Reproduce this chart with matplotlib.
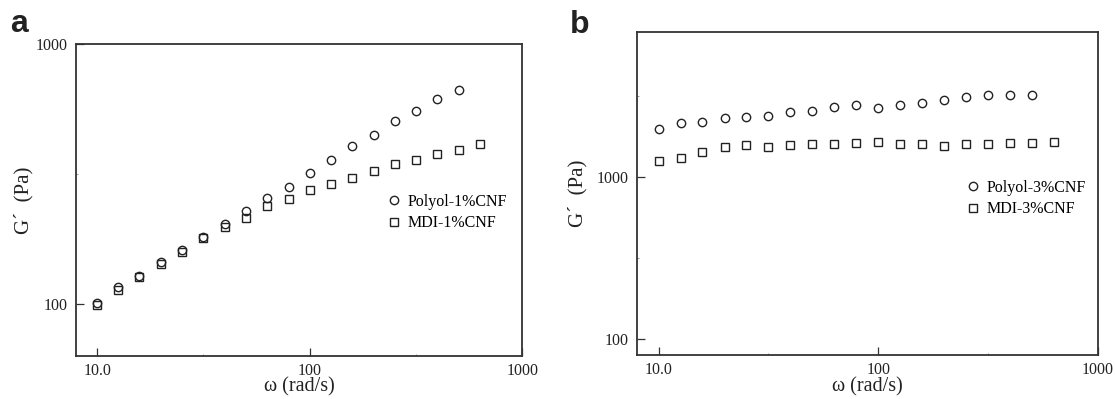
import numpy as np
import matplotlib
matplotlib.use("Agg")
import matplotlib.pyplot as plt
from matplotlib.ticker import FixedLocator, NullFormatter

plt.rcParams['font.family'] = ['Liberation Serif', 'DejaVu Serif']

#  Angular frequency, rad/s (5 points per decade)
omega_polyol = [10.0, 12.6, 15.8, 20.0, 25.1, 31.6, 39.8, 50.1, 63.1, 79.4,
                100, 126, 158, 200, 251, 316, 398, 501]
omega_mdi = omega_polyol + [631]

#  Panel a: storage modulus G' (Pa), 1% CNF
g_polyol_1 = [101, 116, 128, 145, 162, 182, 204, 228, 256, 283,
              321, 359, 406, 447, 507, 553, 614, 665]
g_mdi_1 = [99.6, 113, 127, 143, 159, 179, 199, 214, 238, 255,
           275, 291, 307, 325, 345, 358, 379, 393, 413]

#  Panel b: storage modulus G' (Pa), 3% CNF
g_polyol_3 = [1982, 2158, 2198, 2327, 2370, 2404, 2523, 2582, 2734, 2788,
              2694, 2788, 2880, 2993, 3124, 3228, 3215, 3215]
g_mdi_3 = [1261, 1316, 1428, 1533, 1577, 1546, 1591, 1607, 1600, 1623,
           1646, 1600, 1600, 1567, 1607, 1607, 1637, 1630, 1646]

x_ticks = [10, 100, 1000]
x_tick_labels = ["10.0", "100", "1000"]
y_ticks = [100, 1000]
y_tick_labels = ["100", "1000"]

fig = plt.figure(figsize=(11.15, 3.99), dpi=100)
ax_a = fig.add_axes([0.0679, 0.1078, 0.4007, 0.7812])
ax_b = fig.add_axes([0.5714, 0.1103, 0.4133, 0.8088])

ink = "#222222"
spine_col = "#333333"


def style(ax, xlim, ylim, minor_y, ylab_x, xlab_y):
    ax.set_xscale("log")
    ax.set_yscale("log")
    ax.set_xlim(*xlim)
    ax.set_ylim(*ylim)
    ax.xaxis.set_major_locator(FixedLocator(x_ticks))
    ax.set_xticklabels(x_tick_labels)
    ax.yaxis.set_major_locator(FixedLocator(y_ticks))
    ax.set_yticklabels(y_tick_labels)
    ax.xaxis.set_minor_locator(FixedLocator([31.6, 316]))
    ax.yaxis.set_minor_locator(FixedLocator(minor_y))
    ax.xaxis.set_minor_formatter(NullFormatter())
    ax.yaxis.set_minor_formatter(NullFormatter())
    ax.tick_params(which="major", direction="in", length=6, width=0.9,
                   color=spine_col, labelsize=11.5, labelcolor=ink)
    ax.tick_params(axis="x", which="major", pad=5)
    ax.tick_params(axis="y", which="major", pad=6)
    ax.tick_params(which="minor", direction="in", length=1.5, width=0.6,
                   color="#888888")
    for s in ax.spines.values():
        s.set_linewidth(1.3)
        s.set_color(spine_col)
    ax.set_xlabel("ω (rad/s)", fontsize=14.5, color=ink, va="center")
    ax.xaxis.set_label_coords(0.5, xlab_y)
    ax.set_ylabel("G´  (Pa)", fontsize=15, color=ink, va="center")
    ax.yaxis.set_label_coords(ylab_x, 0.5)


mk = dict(linestyle="none", markerfacecolor="none", markeredgecolor=ink,
          markeredgewidth=1.0)

#  Panel a
ax_a.plot(omega_polyol, g_polyol_1, marker="o", markersize=6, label="Polyol-1%CNF", **mk)
ax_a.plot(omega_mdi, g_mdi_1, marker="s", markersize=5.4, label="MDI-1%CNF", **mk)
style(ax_a, (7.93, 1000), (63.2, 1000), [316], -0.117, -0.0995)
ax_a.legend(loc="center left", bbox_to_anchor=(0.699, 0.46), frameon=False,
            fontsize=11.5, handlelength=0.8, handletextpad=0.45,
            labelspacing=0.35, borderpad=0, borderaxespad=0, numpoints=1)

#  Panel b
ax_b.plot(omega_polyol, g_polyol_3, marker="o", markersize=6, label="Polyol-3%CNF", **mk)
ax_b.plot(omega_mdi, g_mdi_3, marker="s", markersize=5.4, label="MDI-3%CNF", **mk)
style(ax_b, (7.98, 1000), (79.6, 7890), [316, 3162], -0.128, -0.0992)
ax_b.legend(loc="center left", bbox_to_anchor=(0.716, 0.485), frameon=False,
            fontsize=11.5, handlelength=0.8, handletextpad=0.45,
            labelspacing=0.35, borderpad=0, borderaxespad=0, numpoints=1)

#  Panel letters
fig.text(0.009, 0.92, "a", fontsize=23, fontweight="bold",
         family=["Liberation Sans", "DejaVu Sans"], va="baseline", color=ink)
fig.text(0.511, 0.917, "b", fontsize=23, fontweight="bold",
         family=["Liberation Sans", "DejaVu Sans"], va="baseline", color=ink)

fig.savefig("out.png", dpi=100)
